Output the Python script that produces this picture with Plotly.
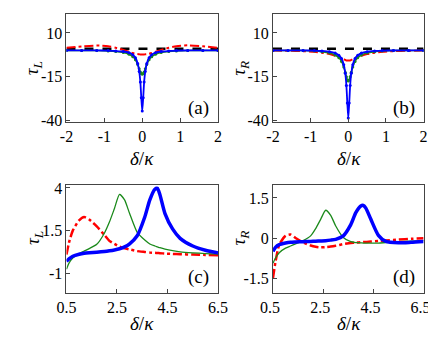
import plotly.graph_objects as go

# panels (a) and (b): delta/kappa in [-2, 2]
xa = [-2, -1.6, -1.2, -0.9, -0.7, -0.5, -0.35, -0.25, -0.18, -0.12, -0.08, -0.05, -0.025, 0,
      0.025, 0.05, 0.08, 0.12, 0.18, 0.25, 0.35, 0.5, 0.7, 0.9, 1.2, 1.6, 2]

blue_a = [0, 0, 0, -0.1, -0.3, -0.6, -1.3, -2.5, -4.2, -7.5, -12, -18, -27, -34.5,
          -27, -18, -12, -7.5, -4.2, -2.5, -1.3, -0.6, -0.3, -0.1, 0, 0, 0]
green_a = [0, 0, -0.1, -0.3, -0.6, -1.2, -2.2, -3.6, -5.3, -8, -10.5, -12.3, -13.2, -13.6,
           -13.2, -12.3, -10.5, -8, -5.3, -3.6, -2.2, -1.2, -0.6, -0.3, -0.1, 0, 0]
red_a = [1.5, 2.3, 2.8, 2.4, 1.5, 0.3, -0.8, -1.5, -1.9, -2.1, -2.2, -2.3, -2.3, -2.3,
         -2.3, -2.3, -2.2, -2.1, -1.9, -1.5, -0.8, 0.3, 1.5, 2.4, 2.9, 2.4, 1.4]

blue_b = [0, 0, 0, -0.1, -0.3, -0.7, -1.5, -2.8, -4.6, -8.2, -13, -20, -30, -38.5,
          -30, -20, -13, -8.2, -4.6, -2.8, -1.5, -0.7, -0.3, -0.1, 0, 0, 0]
green_b = [0, 0, -0.1, -0.3, -0.7, -1.4, -2.6, -4.2, -6.3, -9.5, -12.5, -15, -16.8, -17.5,
           -16.8, -15, -12.5, -9.5, -6.3, -4.2, -2.6, -1.4, -0.7, -0.3, -0.1, 0, 0]
red_b = [0, -0.2, -0.4, -0.8, -1.3, -2.1, -3, -3.8, -4.4, -5, -5.4, -5.7, -5.8, -5.8,
         -5.8, -5.7, -5.4, -5, -4.4, -3.8, -3, -2.1, -1.3, -0.8, -0.4, -0.2, 0]

x_flat = [-2, 2]
black_flat = [1, 1]

# panels (c) and (d): delta/kappa in [0.5, 6.5]
xc = [0.5, 0.6, 0.75, 1, 1.2, 1.4, 1.7, 2, 2.2, 2.4, 2.6, 2.8, 3, 3.3, 3.6, 3.8,
      4, 4.1, 4.2, 4.4, 4.7, 5, 5.5, 6, 6.5]

red_c = [0.1, 0.8, 1.5, 2.1, 2.3, 2.15, 1.75, 1.25, 0.9, 0.72, 0.56, 0.47, 0.4, 0.3, 0.25, 0.22,
         0.2, 0.19, 0.18, 0.16, 0.14, 0.12, 0.1, 0.08, 0.06]
green_c = [-0.76, -0.4, -0.1, 0.15, 0.3, 0.45, 0.7, 1.35, 2.0, 2.8, 3.62, 3.3, 2.5, 1.4, 0.95, 0.72,
           0.6, 0.55, 0.5, 0.42, 0.33, 0.26, 0.2, 0.16, 0.13]
blue_c = [-0.3, -0.15, 0.0, 0.12, 0.18, 0.21, 0.24, 0.28, 0.32, 0.37, 0.44, 0.55, 0.73, 1.2, 2.3, 3.3,
          3.92, 3.97, 3.6, 2.5, 1.6, 1.05, 0.6, 0.35, 0.2]

red_d = [-1.5, -0.9, -0.25, 0.08, 0.13, 0.0, -0.17, -0.28, -0.33, -0.35, -0.34, -0.32, -0.29, -0.23, -0.19, -0.17,
         -0.16, -0.15, -0.15, -0.13, -0.11, -0.09, -0.06, -0.03, -0.01]
green_d = [-0.95, -0.75, -0.55, -0.38, -0.3, -0.22, -0.1, 0.08, 0.35, 0.7, 1.04, 0.85, 0.45, 0.02, -0.14, -0.17,
           -0.18, -0.19, -0.19, -0.19, -0.19, -0.17, -0.14, -0.12, -0.1]
blue_d = [-0.5, -0.35, -0.25, -0.19, -0.16, -0.15, -0.14, -0.13, -0.12, -0.11, -0.1, -0.08, -0.05, 0.08, 0.5, 0.95,
          1.2, 1.22, 1.12, 0.7, 0.1, -0.13, -0.18, -0.16, -0.13]

xticks_top = [-2, -1, 0, 1, 2]
xticks_bot = [0.5, 2.5, 4.5, 6.5]
yticks_top = [10, -15, -40]
yticks_c = [4, 1.5, -1]
yticks_d = [1.5, 0, -1.5]

FONT = "Liberation Serif"
BLUE = "#0000ff"
GREEN = "#1b8a1b"
RED = "#ff0000"

fig = go.Figure()


def add(x, y, ax, color, width, dash="solid", markers=False):
    fig.add_trace(go.Scatter(
        x=x, y=y, xaxis="x" + ax, yaxis="y" + ax,
        mode="lines+markers" if markers else "lines",
        line=dict(color=color, width=width, dash=dash, shape="spline", smoothing=0.6),
        marker=dict(size=3, color=color),
        showlegend=False, hoverinfo="skip"))


# (a)
add(x_flat, black_flat, "", "black", 2.5, "dash")
add(xa, red_a, "", RED, 2, "dashdot")
add(xa, green_a, "", GREEN, 1.5, markers=True)
add(xa, blue_a, "", BLUE, 1.8, markers=True)
# (b)
add(x_flat, black_flat, "2", "black", 2.5, "dash")
add(xa, red_b, "2", RED, 2, "dashdot")
add(xa, green_b, "2", GREEN, 1.5, markers=True)
add(xa, blue_b, "2", BLUE, 1.8, markers=True)
# (c)
add(xc, red_c, "3", RED, 2.5, "dashdot")
add(xc, green_c, "3", GREEN, 1.3)
add(xc, blue_c, "3", BLUE, 3.5)
# (d)
add(xc, red_d, "4", RED, 2.5, "dashdot")
add(xc, green_d, "4", GREEN, 1.3)
add(xc, blue_d, "4", BLUE, 3.5)

W, H = 436, 337


def xax(dom, rng, ticks, anchor, shift=0):
    return dict(domain=[dom[0] / W, dom[1] / W], range=rng, anchor=anchor,
                tickvals=ticks, ticktext=[f"{t:g}" for t in ticks], ticklabelshift=shift,
                ticklabeloverflow="allow",
                ticks="inside", ticklen=4, tickcolor="#444", showline=True, linecolor="#444",
                linewidth=1, mirror=True, showgrid=False, zeroline=False,
                tickfont=dict(family=FONT, size=16, color="black"))


def yax(dom, rng, ticks, anchor):
    return dict(domain=[1 - dom[1] / H, 1 - dom[0] / H], range=rng, anchor=anchor,
                tickvals=ticks, ticktext=[f"{t:g}" for t in ticks],
                ticks="inside", ticklen=4, tickcolor="#444", showline=True, linecolor="#444",
                linewidth=1, mirror=True, showgrid=False, zeroline=False,
                tickfont=dict(family=FONT, size=16, color="black"))


fig.update_layout(
    width=W, height=H, margin=dict(l=0, r=0, t=0, b=0),
    paper_bgcolor="white", plot_bgcolor="white",
    font=dict(family=FONT, color="black"),
    xaxis=xax((48, 208), [-2, 2], xticks_top, "y"),
    yaxis=yax((1, 113), [-40.8, 20.8], yticks_top, "x"),
    xaxis2=xax((266, 425), [-2, 2], xticks_top, "y2"),
    yaxis2=yax((1, 113), [-40.8, 20.8], yticks_top, "x2"),
    xaxis3=xax((48, 208), [0.5, 6.5], xticks_bot, "y3"),
    yaxis3=yax((178, 290), [-2.13, 4.19], yticks_c, "x3"),
    xaxis4=xax((266, 425), [0.5, 6.5], xticks_bot, "y4", shift=-3),
    yaxis4=yax((178, 290), [-2.05, 2.0], yticks_d, "x4"),
)

labels = [
    (128, 151, "<i>δ</i>/<i>κ</i>", 0), (346, 151, "<i>δ</i>/<i>κ</i>", 0),
    (128, 322, "<i>δ</i>/<i>κ</i>", 0), (346, 322, "<i>δ</i>/<i>κ</i>", 0),
    (13, 57, "<i>τ<sub>L</sub></i>", -90), (231, 57, "<i>τ<sub>R</sub></i>", -90),
    (13, 233, "<i>τ<sub>L</sub></i>", -90), (231, 233, "<i>τ<sub>R</sub></i>", -90),
    (187, 98, "(a)", 0), (404, 98, "(b)", 0), (187, 274, "(c)", 0), (404, 274, "(d)", 0),
]
for x, y, t, ang in labels:
    fig.add_annotation(x=x / W, y=1 - y / H, xref="paper", yref="paper", text=t,
                       showarrow=False, textangle=ang, xanchor="center", yanchor="middle",
                       font=dict(family=FONT, size=19, color="black"))

fig.write_html("out.html")
